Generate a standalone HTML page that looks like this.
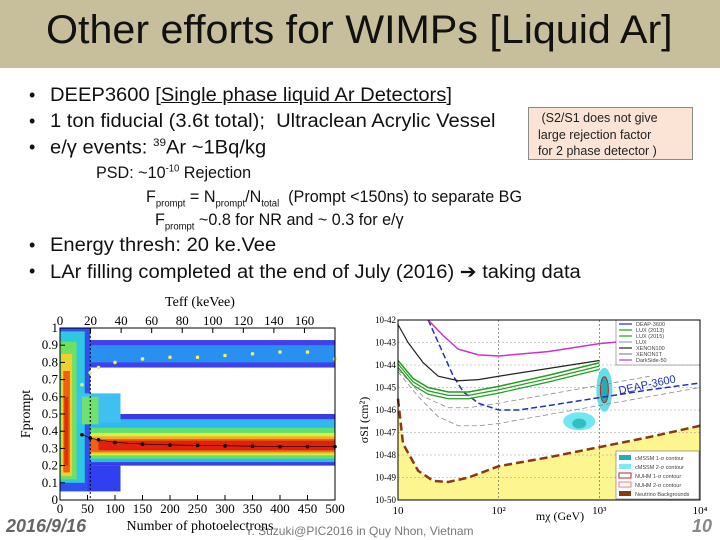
<!DOCTYPE html>
<html><head><meta charset="utf-8"><style>
body{margin:0;width:720px;height:540px;overflow:hidden;background:#fff;font-family:"Liberation Sans",sans-serif;position:relative}
.t{position:absolute;white-space:nowrap;color:#111}
.b{font-size:19px;transform:scaleX(1.06);transform-origin:left}
.s{font-size:17px;transform:scaleX(0.95);transform-origin:left}
.d{position:absolute;left:29px;font-size:18px;color:#111}
</style></head><body>
<div style="position:absolute;left:0;top:0;width:720px;height:68px;background:#c7bf9c"></div>
<div class="t" style="left:46px;top:8px;font-size:40px;transform:scaleX(1.03);transform-origin:left">Other efforts for WIMPs [Liquid Ar]</div>
<div class="d" style="top:85px">•</div>
<div class="d" style="top:111px">•</div>
<div class="d" style="top:137px">•</div>
<div class="d" style="top:235px">•</div>
<div class="d" style="top:261px">•</div>
<div class="t b" style="left:50px;top:85px">DEEP3600 [<u>Single phase liquid Ar Detectors</u>]</div>
<div class="t b" style="left:50px;top:111px">1 ton fiducial (3.6t total);&nbsp; Ultraclean Acrylic Vessel</div>
<div class="t b" style="left:50px;top:137px">e/γ events: <sup style="font-size:11px">39</sup>Ar ~1Bq/kg</div>
<div class="t s" style="left:96px;top:163px">PSD: ~10<sup style="font-size:10px">-10</sup> Rejection</div>
<div class="t s" style="left:146px;top:187px">F<sub style="font-size:10px">prompt</sub> = N<sub style="font-size:10px">prompt</sub>/N<sub style="font-size:10px">total</sub>&nbsp; (Prompt &lt;150ns) to separate BG</div>
<div class="t s" style="left:155px;top:210px">F<sub style="font-size:10px">prompt</sub> ~0.8 for NR and ~ 0.3 for e/γ</div>
<div class="t b" style="left:50px;top:235px">Energy thresh: 20 ke.Vee</div>
<div class="t b" style="left:50px;top:261px">LAr filling completed at the end of July (2016) ➔ taking data</div>
<div style="position:absolute;left:528px;top:107px;width:165px;height:53px;background:#fbe4d5;border:1px solid #8a8a8a;font-size:12.5px;line-height:16.5px;color:#222;padding:2px 0 0 9px;box-sizing:border-box">&nbsp;(S2/S1 does not give<br>large rejection factor<br>for 2 phase detector )</div>
<svg id="lc" width="720" height="540" style="position:absolute;left:0;top:0" font-family="Liberation Serif,serif"></svg>
<div class="t" style="left:6px;top:516px;font-size:18px;font-weight:bold;font-style:italic;color:#666">2016/9/16</div>
<div class="t" style="left:245px;top:524px;font-size:12px;color:#777">Y. Suzuki@PIC2016 in Quy Nhon, Vietnam</div>
<div class="t" style="left:692px;top:516px;font-size:18px;font-weight:bold;font-style:italic;color:#888">10</div>
<script>
const erX=[40,55,70,100,150,200,250,300,350,400,450,500];
const erY=[0.38,0.36,0.35,0.335,0.325,0.32,0.318,0.315,0.313,0.31,0.31,0.31];
const nrX=[40,55,70,100,150,200,250,300,350,400,450,500];
const nrY=[0.67,0.74,0.77,0.80,0.82,0.83,0.83,0.84,0.85,0.86,0.86,0.82];
const botTicks=[0,50,100,150,200,250,300,350,400,450,500];
const topTicks=[0,20,40,60,80,100,120,140,160];
const yTicks=[0,0.1,0.2,0.3,0.4,0.5,0.6,0.7,0.8,0.9,1];
const curves={
 deap:[[1.3,-42],[1.45,-43.5],[1.55,-44.5],[1.65,-45.2],[1.8,-45.7],[2,-46],[2.2,-46],[2.5,-45.8],[3,-45.45],[3.5,-45.1],[4,-44.8]],
 lux:[[1,-43.8],[1.15,-44.6],[1.3,-45],[1.5,-45.2],[1.7,-45.2],[2,-44.95],[2.5,-44.45],[3,-43.9]],
 xenon100:[[1,-42.2],[1.1,-43],[1.25,-43.9],[1.4,-44.5],[1.6,-44.7],[1.8,-44.65],[2,-44.5],[2.5,-44.15],[3,-43.8]],
 darkside:[[1.3,-42],[1.45,-42.7],[1.6,-43.3],[1.8,-43.55],[2,-43.6],[2.5,-43.4],[3,-43.05],[3.5,-42.85]],
 xenon1t:[[1,-44.3],[1.2,-45.4],[1.4,-46.3],[1.6,-46.7],[1.8,-46.7],[2,-46.6],[2.5,-46.2],[3,-45.8],[3.5,-45.4],[4,-45]],
 lz:[[1,-44.2],[1.25,-45.4],[1.5,-45.9],[1.7,-45.9],[2,-45.7],[2.5,-45.3],[3,-44.9],[3.5,-44.5]],
 nu:[[1,-45.5],[1.05,-47.5],[1.2,-48.7],[1.35,-49.15],[1.5,-49.2],[1.7,-49],[2,-48.5],[2.5,-48.1],[3,-47.65],[3.5,-47.2],[4,-46.7]]
};
const rxTicks=["10","10²","10³","10⁴"];
const legTop=["DEAP-3600","LUX (2013)","LUX (2015)","LUX","XENON100","XENON1T","DarkSide-50"];
const legBot=["cMSSM 1-σ contour","cMSSM 2-σ contour","NUHM 1-σ contour","NUHM 2-σ contour","Neutrino Backgrounds"];
const NS="http://www.w3.org/2000/svg",svg=document.getElementById('lc');
function el(t,a,n,txt){const e=document.createElementNS(NS,t);for(const k in a)e.setAttribute(k,a[k]);if(txt!==undefined)e.textContent=txt;svg.appendChild(e);return e;}
const L=60,R=335,T=328,B=500;
const xs=v=>L+v/500*(R-L), ys=f=>B-f*(B-T);
el('rect',{x:L,y:T,width:R-L,height:B-T,fill:'#fff'},'plot-bg');
const bands=[[0,500,0.77,0.93,'#4040f0'],[30,500,0.8,0.9,'#2a90f0'],[0,500,0.2,0.5,'#3a3ae8'],[20,500,0.22,0.47,'#30b8f0'],[20,500,0.24,0.42,'#60e070'],[30,500,0.26,0.39,'#d8f040'],[40,500,0.27,0.37,'#f0b020'],[50,500,0.28,0.355,'#f06018'],[70,500,0.29,0.345,'#e02010'],[0,55,0.05,1,'#3050f0'],[0,45,0.1,0.98,'#30c8e0'],[0,30,0.12,0.92,'#70e060'],[2,22,0.14,0.85,'#f0d030'],[6,18,0.16,0.75,'#f06010'],[8,15,0.2,0.6,'#e03010'],[30,110,0.45,0.62,'#40c0f0'],[40,70,0.44,0.6,'#70e070'],[110,500,0.55,0.75,'#ffffff'],[50,110,0.05,0.2,'#3040f0']];
bands.forEach((b,i)=>{el('rect',{x:xs(b[0]),y:ys(b[3]),width:xs(b[1])-xs(b[0]),height:ys(b[2])-ys(b[3]),fill:b[4]},'heat-band-'+i);});
el('line',{x1:xs(55),x2:xs(55),y1:T,y2:B,stroke:'#000','stroke-dasharray':'2,2'},'threshold-line');
el('polyline',{points:erX.map((x,i)=>xs(x)+','+ys(erY[i])).join(' '),fill:'none',stroke:'#000','stroke-width':.6},'er-mean-line');
erX.forEach((x,i)=>el('circle',{cx:xs(x),cy:ys(erY[i]),r:1.8,fill:'#000'},'er-mean-point'));
nrX.forEach((x,i)=>el('circle',{cx:xs(x),cy:ys(nrY[i]),r:1.8,fill:'#f0f060'},'nr-mean-point'));
el('rect',{x:L,y:T,width:R-L,height:B-T,fill:'none',stroke:'#000'},'plot-frame');
botTicks.forEach(v=>{el('line',{x1:xs(v),x2:xs(v),y1:B,y2:B-5,stroke:'#000'},'x-tick');el('text',{x:xs(v),y:B+13,'font-size':13,'text-anchor':'middle'},'x-tick-label',v);});
topTicks.forEach(v=>{const x=L+v/180*(R-L);el('line',{x1:x,x2:x,y1:T,y2:T+5,stroke:'#000'},'top-tick');el('text',{x:x,y:T-3,'font-size':13,'text-anchor':'middle'},'top-tick-label',v);});
yTicks.forEach(v=>{el('line',{x1:L,x2:L+5,y1:ys(v),y2:ys(v),stroke:'#000'},'y-tick');el('text',{x:L-2,y:ys(v)+4,'font-size':13,'text-anchor':'end'},'y-tick-label',v);});
el('text',{x:200,y:530,'font-size':14,'text-anchor':'middle'},'x-axis-title','Number of photoelectrons');
el('text',{x:200,y:306,'font-size':14,'text-anchor':'middle'},'top-axis-title','Teff (keVee)');
el('text',{x:0,y:0,'font-size':14,'text-anchor':'middle',transform:'translate(30,414) rotate(-90)'},'y-axis-title','Fprompt');
const RL=398,RR=700,RT=320,RB=500;
const mx=l=>RL+(l-1)/3*(RR-RL), sy=e=>RT+(-42-e)/8*(RB-RT);
el('rect',{x:RL,y:RT,width:RR-RL,height:RB-RT,fill:'#fff'},'limit-plot-bg');
const nu=curves.nu;
el('polygon',{points:nu.map(p=>mx(p[0])+','+sy(p[1])).join(' ')+' '+mx(4)+','+RB+' '+mx(1)+','+RB,fill:'#fdf590'},'neutrino-fill');
for(let d=-43;d>=-49;d--)el('line',{x1:RL,x2:RR,y1:sy(d),y2:sy(d),stroke:'#999','stroke-dasharray':'2,2','stroke-width':.6},'grid-h');
[2,3].forEach(l=>el('line',{x1:mx(l),x2:mx(l),y1:RT,y2:RB,stroke:'#666','stroke-dasharray':'2,2','stroke-width':.7},'grid-v'));
const styles={deap:['#2030c0',1.5,'6,3'],lux:['#20a020',1.5,''],xenon100:['#222',1.2,''],darkside:['#d030d0',1.5,''],xenon1t:['#888',.8,'5,3'],lz:['#888',.8,'5,3'],nu:['#8a3a10',2.5,'8,4']};
el('ellipse',{cx:mx(3.05),cy:sy(-45.1),rx:8,ry:22,fill:'#60e0e8'},'cmssm-2sigma');
el('ellipse',{cx:mx(3.05),cy:sy(-45.1),rx:4,ry:13,fill:'#20b0b0',stroke:'#c02020'},'cmssm-1sigma');
el('ellipse',{cx:mx(2.8),cy:sy(-46.5),rx:16,ry:9,fill:'#70e8f0'},'cmssm-blob');
el('ellipse',{cx:mx(2.8),cy:sy(-46.6),rx:7,ry:5,fill:'#30c0c0'},'cmssm-blob-core');
for(const k in curves){const s=styles[k];el('polyline',{points:curves[k].map(p=>mx(p[0])+','+sy(p[1])).join(' '),fill:'none',stroke:s[0],'stroke-width':s[1],'stroke-dasharray':s[2]},'curve-'+k);
 if(k=='lux'){[0.15,0.3].forEach(o=>el('polyline',{points:curves[k].map(p=>mx(p[0])+','+sy(p[1]-o)).join(' '),fill:'none',stroke:'#20a020','stroke-width':1.2},'curve-lux-2015'));}}
el('text',{x:mx(3.2),y:sy(-45.3),'font-size':11,fill:'#2030c0','font-family':'Liberation Sans',transform:'rotate(-12 '+mx(3.2)+' '+sy(-45.3)+')'},'deap-label','DEAP-3600');
el('rect',{x:616,y:RT,width:84,height:45,fill:'#fff',stroke:'#555','stroke-width':.5},'legend-top');
legTop.forEach((t,i)=>{el('line',{x1:619,x2:632,y1:324+i*6,y2:324+i*6,stroke:['#2030c0','#20a020','#20a020','#8ab','#222','#888','#d030d0'][i],'stroke-width':1.2},'legend-swatch');el('text',{x:636,y:326+i*6,'font-size':5.5,'font-family':'Liberation Sans',fill:'#444'},'legend-label',t);});
el('rect',{x:616,y:451,width:83,height:48,fill:'#fff',stroke:'#555','stroke-width':.5},'legend-bottom');
legBot.forEach((t,i)=>{el('rect',{x:619,y:455+i*9,width:12,height:5,fill:['#20b0b0','#80e8f0','#fff','#fff','#8a3a10'][i],stroke:['none','none','#c02020','#e08080','none'][i]},'legend-swatch');el('text',{x:635,y:460+i*9,'font-size':5.5,'font-family':'Liberation Sans',fill:'#444'},'legend-label',t);});
el('rect',{x:RL,y:RT,width:RR-RL,height:RB-RT,fill:'none',stroke:'#000'},'limit-frame');
rxTicks.forEach((t,i)=>el('text',{x:mx(1+i),y:RB+14,'font-size':11,'text-anchor':'middle'},'rx-tick-label',t));
for(let d=-42;d>=-50;d--)el('text',{x:RL-2,y:sy(d)+3,'font-size':9,'text-anchor':'end'},'ry-tick-label','10'+d);
el('text',{x:560,y:520,'font-size':12,'text-anchor':'middle'},'rx-axis-title','mχ (GeV)');
el('text',{x:0,y:0,'font-size':12,'text-anchor':'middle',transform:'translate(368,420) rotate(-90)'},'ry-axis-title','σSI (cm²)');
</script>
</body></html>
